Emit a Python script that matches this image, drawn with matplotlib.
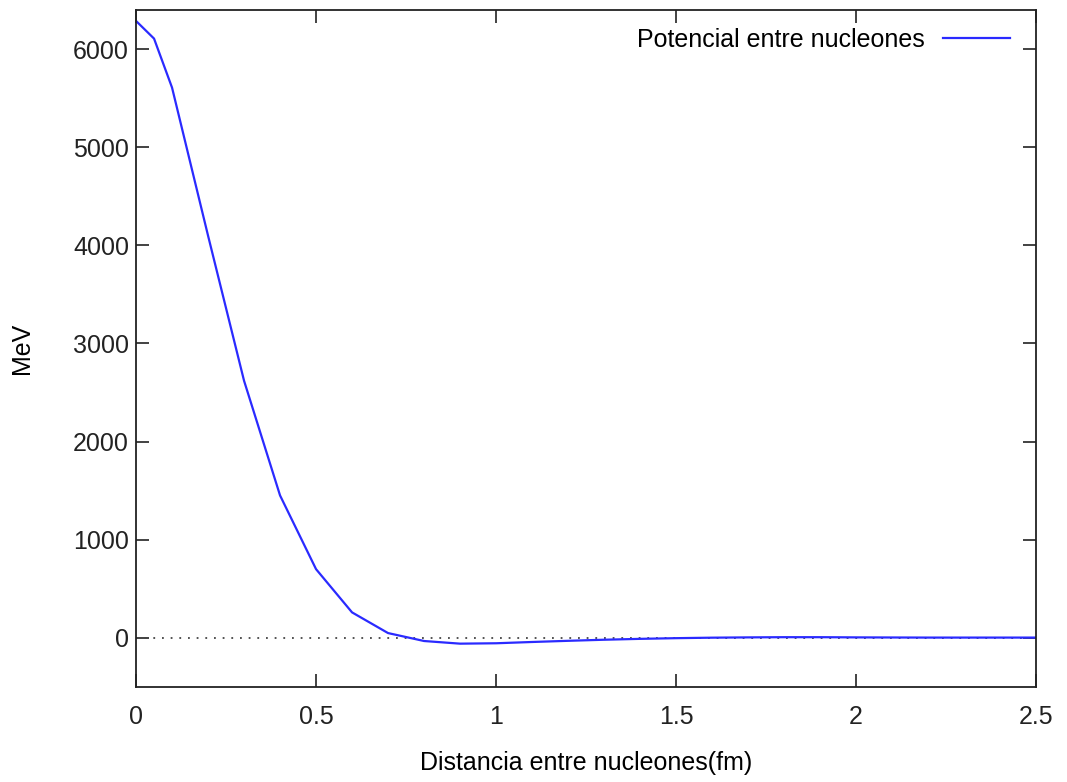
import matplotlib
matplotlib.use("Agg")
import matplotlib.pyplot as plt
from matplotlib.ticker import FuncFormatter

# distancia (fm) y potencial (MeV)
distancia = [0, 0.05, 0.1, 0.2, 0.3, 0.4, 0.5, 0.6, 0.7, 0.8, 0.9, 1.0, 1.1, 1.2,
             1.3, 1.4, 1.5, 1.6, 1.7, 1.8, 1.9, 2.0, 2.1, 2.2, 2.3, 2.4, 2.5]
potencial = [6290, 6110, 5610, 4100, 2620, 1450, 698, 257, 46, -35, -62, -58, -45, -33,
             -22, -13, -6, -1, 2, 4, 4, 2, 1, 0, 0, 0, 0]
xticks = [0, 0.5, 1, 1.5, 2, 2.5]
yticks = [0, 1000, 2000, 3000, 4000, 5000, 6000]

plt.rcParams["font.family"] = ["Liberation Sans", "DejaVu Sans"]

fig = plt.figure(figsize=(10.67, 7.82), dpi=100)
ax = fig.add_axes([0.1275, 0.122, 0.8435, 0.865])

ax.axhline(0, color="#444444", linestyle=(0, (1, 3.8)), linewidth=1.3)
ax.plot(distancia, potencial, color="#2a2aff", linewidth=1.6, label="Potencial entre nucleones")

ax.set_xlim(0, 2.5)
ax.set_ylim(-500, 6400)
ax.set_xticks(xticks)
ax.set_yticks(yticks)
ax.xaxis.set_major_formatter(FuncFormatter(lambda v, p: "%g" % v))
ax.tick_params(direction="in", length=9.5, width=1.2, top=True, right=True,
               labelsize=18, colors="#222222")
ax.tick_params(axis="x", pad=13)
ax.tick_params(axis="y", pad=5)
for s in ax.spines.values():
    s.set_linewidth(1.3)
    s.set_color("#222222")

ax.set_xlabel("Distancia entre nucleones(fm)", fontsize=18, labelpad=16)
ax.set_ylabel("MeV", fontsize=18, labelpad=28)

ax.legend(loc="upper right", frameon=False, markerfirst=False, fontsize=18,
          handlelength=2.7, handletextpad=0.7, borderaxespad=0.4,
          bbox_to_anchor=(0.9935, 1.003))

fig.savefig("out.png", dpi=100)
